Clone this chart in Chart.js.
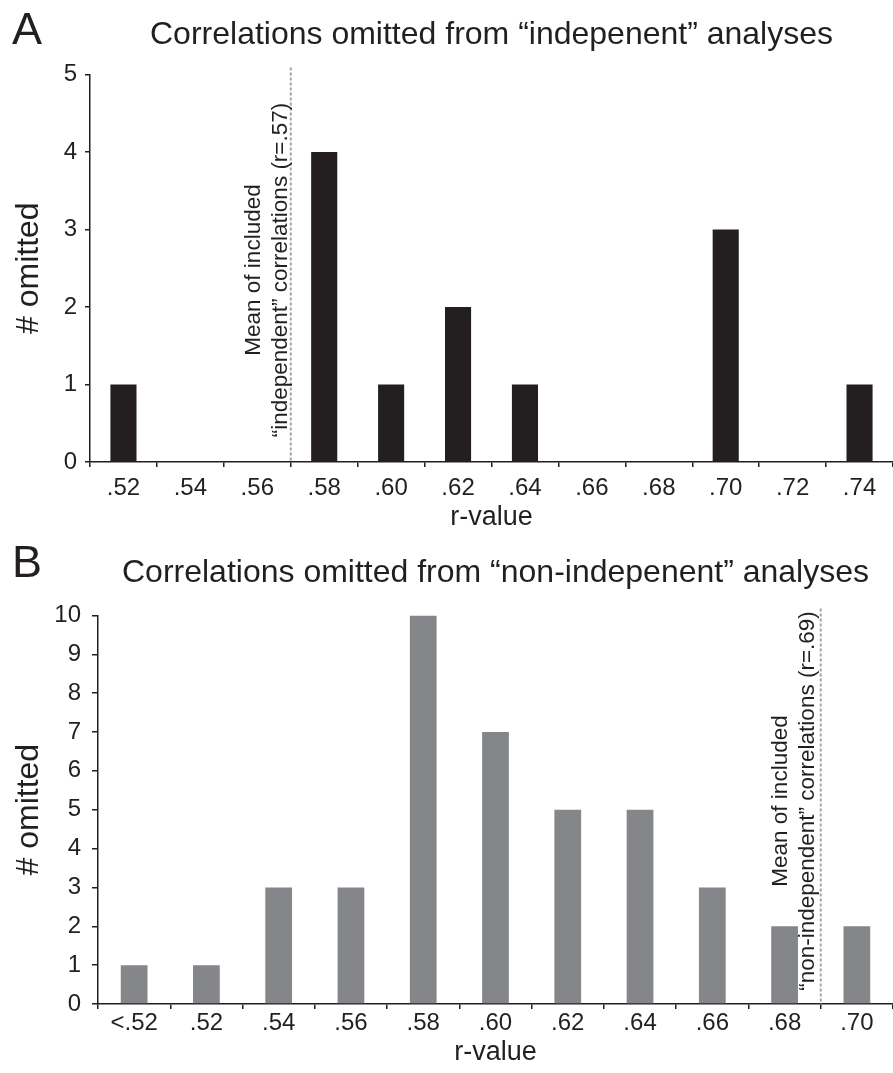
<!DOCTYPE html>
<html lang="en">
<head>
<meta charset="UTF-8">
<script src="https://cdn.jsdelivr.net/npm/chart.js@4.4.0/dist/chart.umd.min.js"></script>
<style>
  body { margin: 0; background: #fff; }
  .panel { position: absolute; left: 0; width: 893px; }
</style>
</head>
<body>
<div class="panel" style="top:0;height:540px"><canvas id="chart-a"></canvas></div>
<div class="panel" style="top:540px;height:533px"><canvas id="chart-b"></canvas></div>
<script>
// panel A: "independent" analyses
var labelsA = ['.52', '.54', '.56', '.58', '.60', '.62', '.64', '.66', '.68', '.70', '.72', '.74'];
var countsA = [1, 0, 0, 4, 1, 2, 1, 0, 0, 3, 0, 1];
var meanA = 0.57;
var titleA = 'Correlations omitted from \u201cindepenent\u201d analyses';
var noteA = ['Mean of included', '\u201cindependent\u201d correlations (r=.57)'];

// panel B: "non-independent" analyses
var labelsB = ['<.52', '.52', '.54', '.56', '.58', '.60', '.62', '.64', '.66', '.68', '.70'];
var countsB = [1, 1, 3, 3, 10, 7, 5, 5, 3, 2, 2];
var meanB = 0.69;
var titleB = 'Correlations omitted from \u201cnon-indepenent\u201d analyses';
var noteB = ['Mean of included', '\u201cnon-independent\u201d correlations (r=.69)'];

var ink = '#231f20';
Chart.defaults.font.family = '"Liberation Sans", Arial, Helvetica, sans-serif';
Chart.defaults.color = ink;

// position of an r value between the category labels
function meanIndex(labels, v) {
  for (var i = 0; i < labels.length - 1; i++) {
    var a = parseFloat(labels[i]), b = parseFloat(labels[i + 1]);
    if (!isNaN(a) && !isNaN(b) && v >= a && v <= b) return i + (v - a) / (b - a);
  }
  return NaN;
}

// dashed mean line with rotated note
var meanLine = {
  id: 'meanLine',
  afterDatasetsDraw: function(chart, args, o) {
    var ctx = chart.ctx, area = chart.chartArea;
    var x = chart.scales.x.getPixelForValue(o.index);
    ctx.save();
    ctx.strokeStyle = '#a3a3a3';
    ctx.lineWidth = 2;
    ctx.setLineDash([3, 2]);
    ctx.beginPath();
    ctx.moveTo(x, area.top - 7);
    ctx.lineTo(x, area.bottom);
    ctx.stroke();
    ctx.setLineDash([]);
    ctx.translate(x - o.gap, o.textY);
    ctx.rotate(-Math.PI / 2);
    ctx.fillStyle = ink;
    ctx.font = '22.5px "Liberation Sans", Arial, sans-serif';
    ctx.textAlign = 'center';
    ctx.textBaseline = 'middle';
    for (var i = 0; i < o.lines.length; i++) {
      ctx.fillText(o.lines[i], 0, -(o.lines.length - 1 - i) * 27);
    }
    ctx.restore();
  }
};

// big panel letter
var panelLetter = {
  id: 'panelLetter',
  afterDraw: function(chart, args, o) {
    var ctx = chart.ctx;
    ctx.save();
    ctx.fillStyle = ink;
    ctx.font = '45px "Liberation Sans", Arial, sans-serif';
    ctx.textAlign = 'center';
    ctx.textBaseline = 'middle';
    ctx.fillText(o.text, o.x, o.y);
    ctx.restore();
  }
};

function makeChart(id, labels, counts, color, cfg) {
  return new Chart(document.getElementById(id), {
    type: 'bar',
    data: {
      labels: labels,
      datasets: [{
        data: counts,
        backgroundColor: color,
        borderWidth: 0,
        categoryPercentage: 1,
        barPercentage: cfg.barPct
      }]
    },
    options: {
      animation: false,
      responsive: true,
      maintainAspectRatio: false,
      layout: { padding: 0 },
      plugins: {
        legend: { display: false },
        tooltip: { enabled: false },
        title: {
          display: true,
          text: cfg.title,
          fullSize: false,
          color: ink,
          font: { size: 32, weight: 'normal' },
          padding: cfg.titlePad
        },
        meanLine: { index: cfg.meanIdx, lines: cfg.note, gap: cfg.gap, textY: cfg.textY },
        panelLetter: { text: cfg.letter, x: 27, y: cfg.letterY }
      },
      scales: {
        x: {
          grid: { drawOnChartArea: false, drawTicks: true, tickLength: 5, color: ink, lineWidth: 1.5, offset: true },
          border: { color: ink, width: 1.5 },
          ticks: { color: ink, font: { size: 24 }, padding: cfg.xPad, maxRotation: 0, autoSkip: false },
          title: { display: true, text: 'r-value', color: ink, font: { size: 27 }, padding: { top: 0, bottom: cfg.xTitlePad } },
          afterFit: function(s) { s.height = cfg.xHeight; }
        },
        y: {
          min: 0,
          max: cfg.yMax,
          grid: { drawOnChartArea: false, drawTicks: true, tickLength: cfg.yTick, color: ink, lineWidth: 1.5 },
          border: { color: ink, width: 1.5 },
          ticks: { stepSize: 1, color: ink, font: { size: 24 }, padding: cfg.yPad },
          title: { display: true, text: '# omitted', color: ink, font: { size: 32 }, padding: { top: 10, bottom: 0 } },
          afterFit: function(s) { s.width = cfg.yWidth; }
        }
      }
    },
    plugins: [meanLine, panelLetter]
  });
}

makeChart('chart-a', labelsA, countsA, '#231f20', {
  title: titleA, titlePad: { top: 16, bottom: 20 }, barPct: 0.39,
  meanIdx: meanIndex(labelsA, meanA), note: noteA, gap: 10, textY: 270,
  letter: 'A', letterY: 32, xPad: 7, xTitlePad: 6, xHeight: 78,
  yMax: 5, yTick: 5, yPad: 8, yWidth: 90
});

makeChart('chart-b', labelsB, countsB, '#85868a', {
  title: titleB, titlePad: { top: 14, bottom: 23 }, barPct: 0.37,
  meanIdx: meanIndex(labelsB, meanB), note: noteB, gap: 13, textY: 261,
  letter: 'B', letterY: 25, xPad: 0, xTitlePad: 4, xHeight: 69,
  yMax: 10, yTick: 6, yPad: 11, yWidth: 98
});
</script>
</body>
</html>
